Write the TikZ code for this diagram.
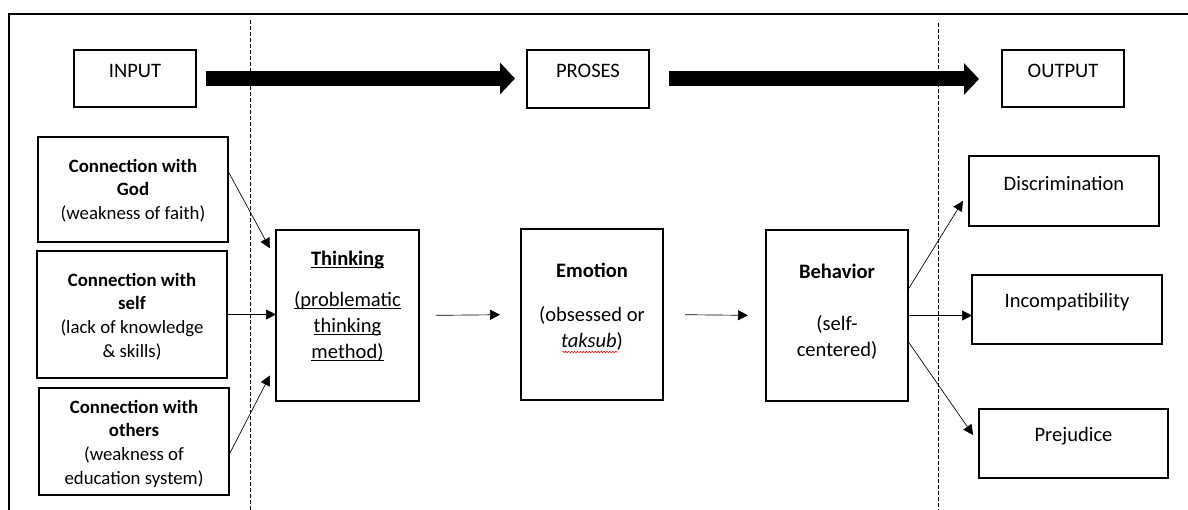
\documentclass[tikz,border=0pt]{standalone}
\usepackage{fontspec}
\setmainfont{Carlito}
\usetikzlibrary{arrows.meta,decorations.pathmorphing}
\tikzset{>={Triangle[length=7.5pt,width=7.5pt]}}
\tikzset{
    stage/.style={draw,line width=1pt,inner sep=0pt,outer sep=0pt,anchor=north west,
        font=\fontsize{15.4}{19.5}\selectfont},
    source/.style={font=\fontsize{14.1}{17.8}\selectfont},
    flow/.style={line width=11.25pt,-{Triangle[length=11.25pt,width=23.25pt]}},
    link/.style={->,line width=0.5pt},
    divider/.style={dash pattern=on 3pt off 1.5pt,line width=0.5pt},
    spellwave/.style={red,line width=0.4pt,decorate,decoration={snake,amplitude=0.6pt,segment length=2.2pt}}
}
\newcommand\undl[1]{\underline{\smash{#1}}}
\newcommand\stagebox[8][]{
    \node[stage,#1] (#2) at (#3,#4)
        {\parbox[c][\dimexpr0.75pt*(#6-#4)\relax][t]{\dimexpr0.75pt*(#5-#3)\relax}%
        {\centering\vspace*{\dimexpr0.75pt*#7-\ht\strutbox\relax}\strut #8\par}};
}
\begin{document}
\begin{tikzpicture}[x=0.75pt,y=-0.75pt]
    \useasboundingbox (0,0) rectangle (1188,510);
    \draw[line width=1pt] (9,510) -- (9,14) -- (1188,14);
    \draw[divider] (250,20) -- (250,510);
    \draw[divider] (938,23) -- (938,510);
    \stagebox{input}{74}{50}{196}{107}{28}{INPUT}
    \stagebox{proses}{527}{50}{649}{108}{28}{PROSES}
    \stagebox{output}{1002}{50}{1124}{107}{28}{OUTPUT}
    \stagebox[source]{god}{38}{137}{228}{242}{35}{\textbf{Connection with\\God}\\(weakness of faith)}
    \stagebox[source]{self}{37}{251}{227}{378}{35}{\textbf{Connection with\\self}\\(lack of knowledge\\\& skills)}
    \stagebox[source]{others}{39}{388}{229}{495}{25}{\textbf{Connection with\\others}\\(weakness of\\education system)}
    \stagebox{thinking}{276}{230}{419}{401}{35}{\textbf{\undl{Thinking}}\\[11.8pt]
        \undl{(problematic}\\\undl{thinking}\\\undl{method)}}
    \stagebox{emotion}{521}{229}{663}{400}{48}{\textbf{Emotion}\\[14pt]
        (obsessed or\\\textit{taksub})}
    \stagebox{behavior}{766}{230}{908}{401}{48}{\textbf{Behavior}\\[19.5pt](self-\\centered)}
    \stagebox{discrimination}{969}{156}{1159}{226}{34}{Discrimination}
    \stagebox{incompatibility}{972}{275}{1162}{344}{32}{Incompatibility}
    \stagebox{prejudice}{979}{409}{1168}{478}{32}{Prejudice}
    \draw[spellwave] (562,352) -- (618,352);
    \draw[flow,shorten <=7.5pt,shorten >=9pt] (input.east) -- (input.east -| proses.west);
    \draw[flow,shorten <=15pt,shorten >=17.25pt] (proses.east) -- (proses.east -| output.west);
    \draw[link,shorten >=9.7pt] (god.11) -- (thinking.142);
    \draw[link] (self.east) -- (self.east -| thinking.west);
    \draw[link,shorten >=9.9pt] (others.-8) -- (thinking.214);
    \draw[link,shorten <=12.75pt,shorten >=15.75pt] (thinking.east) -- (emotion.west);
    \draw[link,shorten <=16.5pt,shorten >=13.5pt] (emotion.east) -- (behavior.west);
    \draw[link,shorten >=8.7pt] (behavior.20) -- (discrimination.west);
    \draw[link] (behavior.east) -- (behavior.east -| incompatibility.west);
    \draw[link,shorten >=7.8pt] (behavior.-20) -- (prejudice.west);
\end{tikzpicture}
\end{document}
